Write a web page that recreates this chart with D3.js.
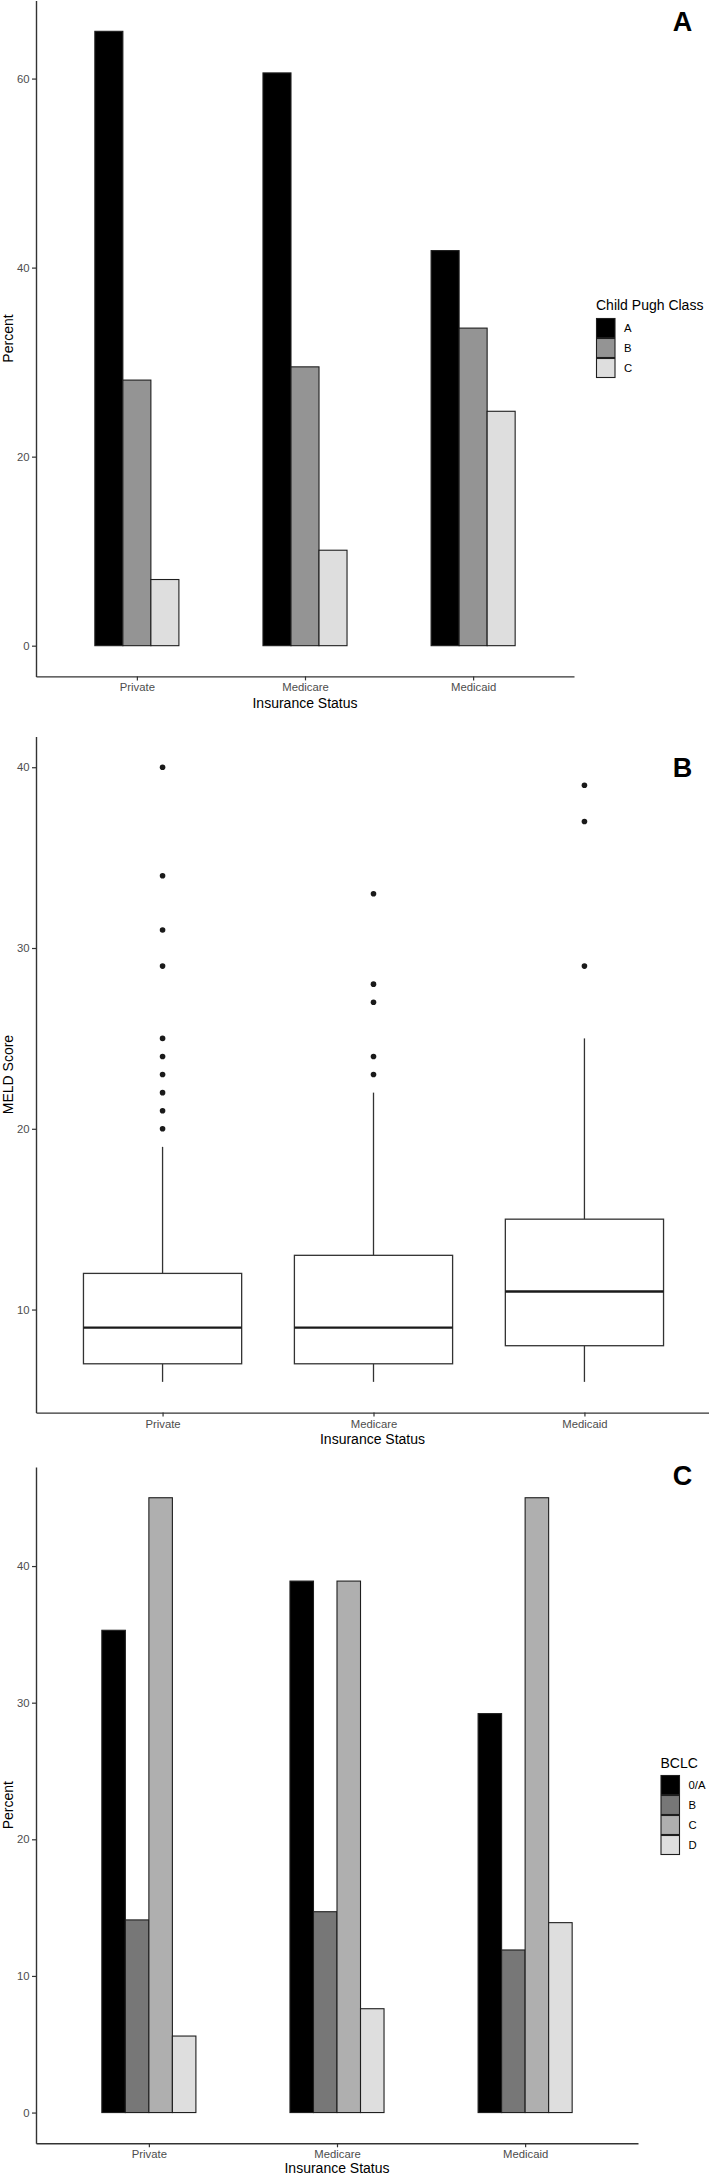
<!DOCTYPE html>
<html>
<head>
<meta charset="utf-8">
<script src="https://cdn.jsdelivr.net/npm/d3@7"></script>
<style>
  html, body { margin: 0; padding: 0; background: #fff; }
  svg { display: block; }
  text { font-family: "Liberation Sans", Arial, Helvetica, sans-serif; }
</style>
</head>
<body>
<svg id="chart" width="709" height="2175"></svg>
<script>
// ---------- DATA ----------
const categories = ["Private", "Medicare", "Medicaid"];

// Panel A: Child Pugh Class (percent)
const childPughClasses = ["A", "B", "C"];
const childPughA = [65.0, 60.6, 41.8];
const childPughB = [28.1, 29.5, 33.6];
const childPughC = [7.0, 10.1, 24.8];
const childPughTicks = [0, 20, 40, 60];

// Panel B: MELD Score box plots
const meldMin    = [6, 6, 6];
const meldQ1     = [7, 7, 8];
const meldMedian = [9, 9, 11];
const meldQ3     = [12, 13, 15];
const meldMax    = [19, 22, 25];
const meldOutliersPrivate  = [20, 21, 22, 23, 24, 25, 29, 31, 34, 40];
const meldOutliersMedicare = [23, 24, 27, 28, 33];
const meldOutliersMedicaid = [29, 37, 39];
const meldTicks = [10, 20, 30, 40];

// Panel C: BCLC stage (percent)
const bclcClasses = ["0/A", "B", "C", "D"];
const bclc0A = [35.3, 38.9, 29.2];
const bclcB  = [14.1, 14.7, 11.9];
const bclcC  = [45.0, 38.9, 45.0];
const bclcD  = [5.6, 7.6, 13.9];
const bclcTicks = [0, 10, 20, 30, 40];

// ---------- STYLE ----------
const axisColor = "#333333";
const tickText = "#4d4d4d";
const fillsA = ["#000000", "#949494", "#dedede"];
const fillsC = ["#000000", "#777777", "#afafaf", "#dedede"];
const barStroke = "#1e1e1e";

const svg = d3.select("#chart");

function expandDomain(lo, hi) {
  const e = (hi - lo) * 0.05;
  return [lo - e, hi + e];
}

function drawAxes(g, x, y, ticks, left, bottom) {
  const ya = g.append("g").attr("transform", `translate(${left},0)`)
    .call(d3.axisLeft(y).tickValues(ticks).tickSize(4).tickSizeOuter(0).tickPadding(2.5));
  const xa = g.append("g").attr("transform", `translate(0,${bottom})`)
    .call(d3.axisBottom(x).tickSize(4).tickSizeOuter(0).tickPadding(3));
  [ya, xa].forEach(a => {
    a.select(".domain").attr("stroke", axisColor).attr("stroke-width", 1.4);
    a.selectAll(".tick line").attr("stroke", axisColor).attr("stroke-width", 1.2);
    a.selectAll(".tick text").attr("fill", tickText).style("font-size", "11.3px")
      .style("font-family", '"Liberation Sans", Arial, sans-serif');
  });
}

function axisTitles(g, xTitle, yTitle, left, right, top, bottom) {
  g.append("text").attr("x", (left + right) / 2).attr("y", Math.min(bottom + 31.5, 2173))
    .attr("text-anchor", "middle").style("font-size", "14px").attr("fill", "#000")
    .text(xTitle);
  const cy = (top + bottom) / 2;
  g.append("text").attr("transform", `translate(12.5,${cy}) rotate(-90)`)
    .attr("text-anchor", "middle").style("font-size", "14px").attr("fill", "#000")
    .text(yTitle);
}

function panelLetter(letter, baseline) {
  svg.append("text").attr("x", 682.5).attr("y", baseline).attr("text-anchor", "middle")
    .style("font-size", "27px").style("font-weight", "bold").attr("fill", "#000")
    .text(letter);
}

function legend(title, classes, fills, x, titleBaseline, keyTop) {
  const g = svg.append("g");
  g.append("text").attr("x", x).attr("y", titleBaseline).style("font-size", "14px")
    .attr("fill", "#000").text(title);
  const kh = 20, kw = 19.5;
  classes.forEach((c, i) => {
    g.append("rect").attr("x", x + 0.5).attr("y", keyTop + i * kh + 0.5)
      .attr("width", kw - 1).attr("height", kh - 1)
      .attr("fill", fills[i]).attr("stroke", barStroke).attr("stroke-width", 1.1);
    g.append("text").attr("x", x + 28).attr("y", keyTop + i * kh + kh / 2 + 4)
      .style("font-size", "11.3px").attr("fill", "#000").text(c);
  });
}

function groupedBars(cfg) {
  const { top, bottom, left, right, classes, series, fills, ticks, letter, letterBaseline } = cfg;
  const g = svg.append("g");
  const x = d3.scalePoint().domain(categories).range([left, right]).padding(0.6);
  const allVals = series.flat();
  const y = d3.scaleLinear().domain(expandDomain(0, d3.max(allVals))).range([bottom, top]);
  const inner = d3.scaleBand().domain(classes).range([-x.step() * 0.25, x.step() * 0.25]).padding(0);

  categories.forEach((cat, ci) => {
    classes.forEach((cls, k) => {
      const v = series[k][ci];
      g.append("rect")
        .attr("x", x(cat) + inner(cls))
        .attr("y", y(v))
        .attr("width", inner.bandwidth())
        .attr("height", y(0) - y(v))
        .attr("fill", fills[k])
        .attr("stroke", barStroke)
        .attr("stroke-width", 1.1);
    });
  });
  drawAxes(g, x, y, ticks, left, bottom);
  axisTitles(g, "Insurance Status", "Percent", left, right, top, bottom);
  panelLetter(letter, letterBaseline);
}

// Panel A
groupedBars({
  top: 0.6, bottom: 676.4, left: 36, right: 574,
  classes: childPughClasses,
  series: [childPughA, childPughB, childPughC],
  fills: fillsA, ticks: childPughTicks, letter: "A", letterBaseline: 31
});
legend("Child Pugh Class", childPughClasses, fillsA, 596, 310, 318);

// Panel B
(function () {
  const top = 736.5, bottom = 1412.6, left = 36, right = 711;
  const g = svg.append("g");
  const x = d3.scalePoint().domain(categories).range([left, right]).padding(0.6);
  const outliers = [meldOutliersPrivate, meldOutliersMedicare, meldOutliersMedicaid];
  const allVals = meldMin.concat(meldMax, outliers.flat());
  const y = d3.scaleLinear().domain(expandDomain(d3.min(allVals), d3.max(allVals))).range([bottom, top]);
  const bw = x.step() * 0.75;
  categories.forEach((cat, i) => {
    const cx = x(cat);
    // whiskers
    g.append("line").attr("x1", cx).attr("x2", cx).attr("y1", y(meldQ3[i])).attr("y2", y(meldMax[i]))
      .attr("stroke", axisColor).attr("stroke-width", 1.3);
    g.append("line").attr("x1", cx).attr("x2", cx).attr("y1", y(meldQ1[i])).attr("y2", y(meldMin[i]))
      .attr("stroke", axisColor).attr("stroke-width", 1.3);
    // box
    g.append("rect").attr("x", cx - bw / 2).attr("y", y(meldQ3[i]))
      .attr("width", bw).attr("height", y(meldQ1[i]) - y(meldQ3[i]))
      .attr("fill", "#fff").attr("stroke", axisColor).attr("stroke-width", 1.3);
    // median
    g.append("line").attr("x1", cx - bw / 2).attr("x2", cx + bw / 2)
      .attr("y1", y(meldMedian[i])).attr("y2", y(meldMedian[i]))
      .attr("stroke", "#1a1a1a").attr("stroke-width", 2.4);
    // outliers
    outliers[i].forEach(v => {
      g.append("circle").attr("cx", cx).attr("cy", y(v)).attr("r", 2.8).attr("fill", "#1a1a1a");
    });
  });
  drawAxes(g, x, y, meldTicks, left, bottom);
  axisTitles(g, "Insurance Status", "MELD Score", left, 709, top, bottom);
  panelLetter("B", 777.4);
})();

// Panel C
groupedBars({
  top: 1467, bottom: 2143.3, left: 36, right: 638,
  classes: bclcClasses,
  series: [bclc0A, bclcB, bclcC, bclcD],
  fills: fillsC, ticks: bclcTicks, letter: "C", letterBaseline: 1485
});
legend("BCLC", bclcClasses, fillsC, 660.5, 1767.5, 1775);
</script>
</body>
</html>
